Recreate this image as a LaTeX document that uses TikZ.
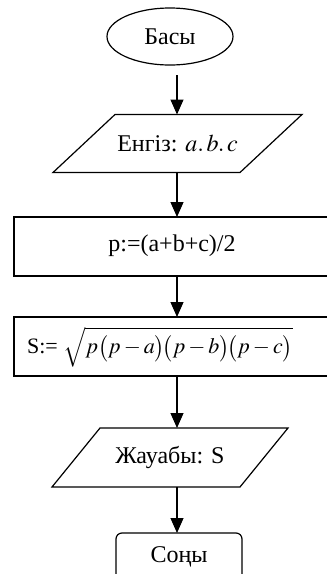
\documentclass[tikz,border=0pt]{standalone}
\usepackage{mathptmx}
\usepackage{fontspec}
\setmainfont{Liberation Serif}
\usetikzlibrary{shapes.geometric,arrows.meta}
\begin{document}
\begin{tikzpicture}[x=1pt,y=-1pt,
  every node/.style={font=\fontsize{24}{28}\selectfont, inner sep=0pt, outer sep=0pt},
  line/.style={line width=1.2pt},
  arr/.style={line width=1.2pt, -{Triangle[width=13pt,length=15pt]}},
  term/.style={ellipse, draw, line width=1.2pt, minimum width=126pt, minimum height=57pt},
  proc/.style={rectangle, draw, line width=1.2pt, minimum width=330pt, minimum height=59pt},
  io/.style={rectangle, minimum height=58pt},
  endbox/.style={rectangle, draw, rounded corners=6pt, line width=1.2pt, minimum width=126pt, minimum height=48pt}]
\useasboundingbox (0,0) rectangle (327,574);
\clip (0,0) rectangle (327,574);
\coordinate (col) at (177,0);
\node[term] (start) at (170,36.5) {Басы};
\node[io, minimum width=249pt] (in) at (177.5,143.5) {Енгіз: $a.\,b.\,c$};
\draw[line] ([xshift=62pt]in.north west) -- (in.north east) -- ([xshift=-62pt]in.south east) -- (in.south west) -- cycle;
\node[proc, anchor=north west] (p1) at (14,217) {};
\node at (172,246) {p:=(a+b+c)/2};
\node[proc, anchor=north west] (p2) at (14,317) {};
\node[font=\fontsize{22}{26}\selectfont] at (160,347) {S:= $\sqrt{p\bigl(p-a\bigr)\!\bigl(p-b\bigr)\!\bigl(p-c\bigr)}$};
\node[io, minimum width=236pt, minimum height=59pt] (out) at (170,457.5) {Жауабы: S};
\draw[line] ([xshift=48pt]out.north west) -- (out.north east) -- ([xshift=-48pt]out.south east) -- (out.south west) -- cycle;
\node[endbox] (stop) at (179,557) {Соңы};
\draw[arr] ([yshift=-10pt]start.south -| col) -- (in.north -| col);
\draw[arr] (in.south -| col) -- (p1.north -| col);
\draw[arr] (p1.south -| col) -- (p2.north -| col);
\draw[arr] (p2.south -| col) -- (out.north -| col);
\draw[arr] (out.south -| col) -- (stop.north -| col);
\end{tikzpicture}
\end{document}
